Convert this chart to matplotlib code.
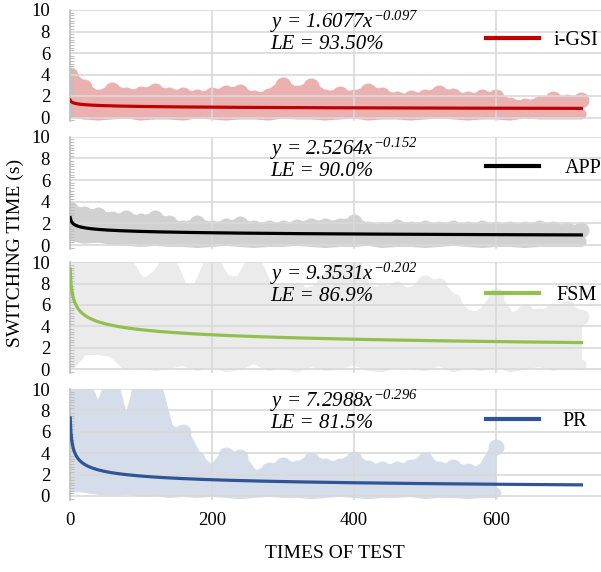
import numpy as np
import matplotlib
matplotlib.use("Agg")
import matplotlib.pyplot as plt
from matplotlib.ticker import MultipleLocator

plt.rcParams["font.family"] = ["Liberation Serif", "DejaVu Serif"]
plt.rcParams["mathtext.fontset"] = "custom"
plt.rcParams["mathtext.rm"] = "Liberation Serif:italic"
plt.rcParams["mathtext.it"] = "Liberation Serif:italic"

# ---- data (upper/lower extent of the raw runs every 20 tests) ----
STEP = 20
names = ["i-GSI", "APP", "FSM", "PR"]

igsi_hi = [4.0, 2.8, 1.9, 2.6, 2.1, 2.2, 2.5, 2.1, 2.1, 1.9, 2.1, 2.3, 2.4, 1.8, 2.0, 3.0, 2.3, 2.9, 1.9,
           2.2, 1.9, 2.5, 2.1, 1.7, 1.8, 1.9, 2.3, 2.0, 1.7, 1.9, 1.9, 1.2, 1.1, 1.3, 1.7, 1.4, 1.6]
igsi_lo = [0.5, 0.3, 0.2, 0.3, 0.4, 0.2, 0.3, 0.3, 0.2, 0.4, 0.3, 0.2, 0.3, 0.3, 0.2, 0.4, 0.3, 0.3,
           0.2, 0.3, 0.4, 0.2, 0.3, 0.3, 0.2, 0.3, 0.4, 0.3, 0.2, 0.3, 0.3, 0.2, 0.4, 0.3, 0.3, 0.3, 0.3]

app_hi = [3.3, 2.9, 2.8, 2.4, 2.5, 2.2, 2.5, 2.0, 1.6, 2.0, 1.6, 1.8, 1.9, 1.6, 1.6, 1.6, 1.7, 1.8, 1.8,
          1.8, 2.1, 1.5, 1.4, 1.7, 1.5, 1.6, 1.5, 1.6, 1.5, 1.6, 1.5, 1.5, 1.5, 1.6, 1.5, 1.4, 1.4]
app_lo = [0.9, 0.6, 0.7, 0.5, 0.4, 0.3, 0.4, 0.3, 0.3, 0.2, 0.3, 0.4, 0.3, 0.2, 0.3, 0.3, 0.4, 0.3,
          0.2, 0.3, 0.3, 0.4, 0.2, 0.3, 0.3, 0.2, 0.3, 0.4, 0.3, 0.2, 0.3, 0.3, 0.2, 0.3, 0.3, 0.3, 0.3]

fsm_hi = [11, 11, 11, 10.5, 10.2, 8.0, 8.4, 10.5, 7.4, 7.4, 10.5, 8.2, 8.2, 10.5, 7.4, 7.4, 7.4, 7.0, 8.2,
          10.5, 10.0, 7.2, 7.2, 7.5, 7.0, 8.1, 7.8, 6.4, 4.9, 5.0, 6.8, 4.7, 5.3, 5.0, 5.4, 5.7, 4.9]
fsm_lo = [0.3, 1.8, 1.8, 1.6, 0.4, 0.6, 0.3, 0.5, 0.8, 0.3, 0.6, 0.2, 0.4, 1.0, 0.3, 0.5, 0.2, 0.7, 0.3,
          0.4, 0.9, 0.3, 0.2, 0.6, 0.4, 0.3, 0.8, 0.2, 0.5, 0.3, 0.6, 0.2, 0.4, 0.7, 0.3, 0.5, 0.4]

pr_hi = [11, 11, 7.7, 11, 6.0, 11, 11, 6.0, 6.0, 3.5, 2.3, 3.8, 3.6, 1.8, 2.4, 2.9, 2.6, 3.4, 2.8, 2.8,
         3.5, 2.6, 2.5, 2.5, 2.7, 3.4, 2.5, 2.7, 2.3, 2.3, 4.6]
pr_lo = [0.9, 0.8, 0.6, 0.5, 0.6, 0.4, 0.5, 0.3, 0.4, 0.3, 0.4, 0.3, 0.2, 0.3, 0.4, 0.3, 0.3, 0.2,
         0.3, 0.4, 0.3, 0.2, 0.3, 0.3, 0.4, 0.2, 0.3, 0.3, 0.2, 0.3, 0.3]

# fitted power curves y = a * x^b
fit_a = [1.6077, 2.5264, 9.3531, 7.2988]
fit_b = [-0.097, -0.152, -0.202, -0.296]
fit_text = ["1.6077", "2.5264", "9.3531", "7.2988"]
le_text = ["93.50%", "90.0%", "86.9%", "81.5%"]
n_tests = 720

highs = [igsi_hi, app_hi, fsm_hi, pr_hi]
lows = [igsi_lo, app_lo, fsm_lo, pr_lo]

# ---- styling ----
line_colors = ["#C00000", "#000000", "#92C050", "#2F5597"]
cloud_colors = ["#EBB1B1", "#D1D1D1", "#EBEBEB", "#D6DDEA"]
GRID = "#D9D9D9"
W, H = 601, 572
# pixel rows of y=10 and y=0 for each panel
rows = [(10, 117.5), (136.7, 245), (262.3, 369), (389, 496)]
leg_y = [7.2, 7.1, 6.87, 7.0]
leg_pad = [0.75, 1.3, 0.9, 1.2]
YMIN = -0.35
LEFT_PX = 69.5

fig = plt.figure(figsize=(W / 100, H / 100), dpi=100)
fit_x = np.arange(1, n_tests + 1)

for k in range(4):
    top, zero = rows[k]
    ppu = (zero - top) / 10.0
    bot = zero - YMIN * ppu
    ax = fig.add_axes([LEFT_PX / W, 1 - bot / H, (W - LEFT_PX) / W, (bot - top) / H])

    xs = np.arange(len(highs[k])) * STEP
    c = cloud_colors[k]
    ax.fill_between(xs, lows[k], highs[k], color=c, lw=0, zorder=1)
    ax.plot(xs, highs[k], color=c, lw=7.5, solid_capstyle="round", solid_joinstyle="round",
            marker="o", ms=11.5, mew=0, zorder=1)
    ax.plot(xs, lows[k], color=c, lw=7.5, solid_capstyle="round", solid_joinstyle="round",
            zorder=1)
    line, = ax.plot(fit_x, fit_a[k] * fit_x ** fit_b[k], color=line_colors[k], lw=2.3,
                    zorder=3, label=names[k])

    ax.set_xlim(0, (W - LEFT_PX) / 0.711)
    ax.set_ylim(YMIN, 10)
    ax.set_yticks([0, 2, 4, 6, 8, 10])
    ax.yaxis.set_minor_locator(MultipleLocator(0.25))
    ax.set_xticks([0, 200, 400, 600])
    ax.grid(True, color=GRID, lw=1.2)
    ax.set_axisbelow("line")
    for s in ["top", "right", "bottom"]:
        ax.spines[s].set_visible(False)
    ax.spines["left"].set_color("#BFBFBF")
    ax.spines["left"].set_linewidth(1.2)
    ax.tick_params(axis="y", which="major", length=0, pad=14, labelsize=13.5)
    ax.tick_params(axis="y", which="minor", length=3, direction="in", color="#BFBFBF", width=0.8)
    ax.tick_params(axis="x", length=0, pad=9, labelsize=13.5, labelbottom=(k == 3))

    ax.text(282, 8.9, "y = " + fit_text[k] + r"$x^{" + str(fit_b[k]) + "}$",
            fontsize=15, style="italic", ha="left", va="center", zorder=4)
    ax.text(282, 6.75, "LE = " + le_text[k], fontsize=15, style="italic",
            ha="left", va="center", zorder=4)

    leg = ax.legend(handles=[line], loc="center left", bbox_to_anchor=(586, leg_y[k]),
                    bbox_transform=ax.transData, frameon=False, fontsize=14.5,
                    handlelength=2.6, handletextpad=leg_pad[k], borderpad=0, borderaxespad=0)
    leg.get_lines()[0].set_linewidth(3)

fig.text(15 / W, 1 - 253 / H, "SWITCHING TIME (s)", rotation=90, ha="center", va="center",
         fontsize=14)
fig.text(335 / W, 1 - 553 / H, "TIMES OF TEST", ha="center", va="center", fontsize=14)

fig.savefig("out.png", dpi=100)
